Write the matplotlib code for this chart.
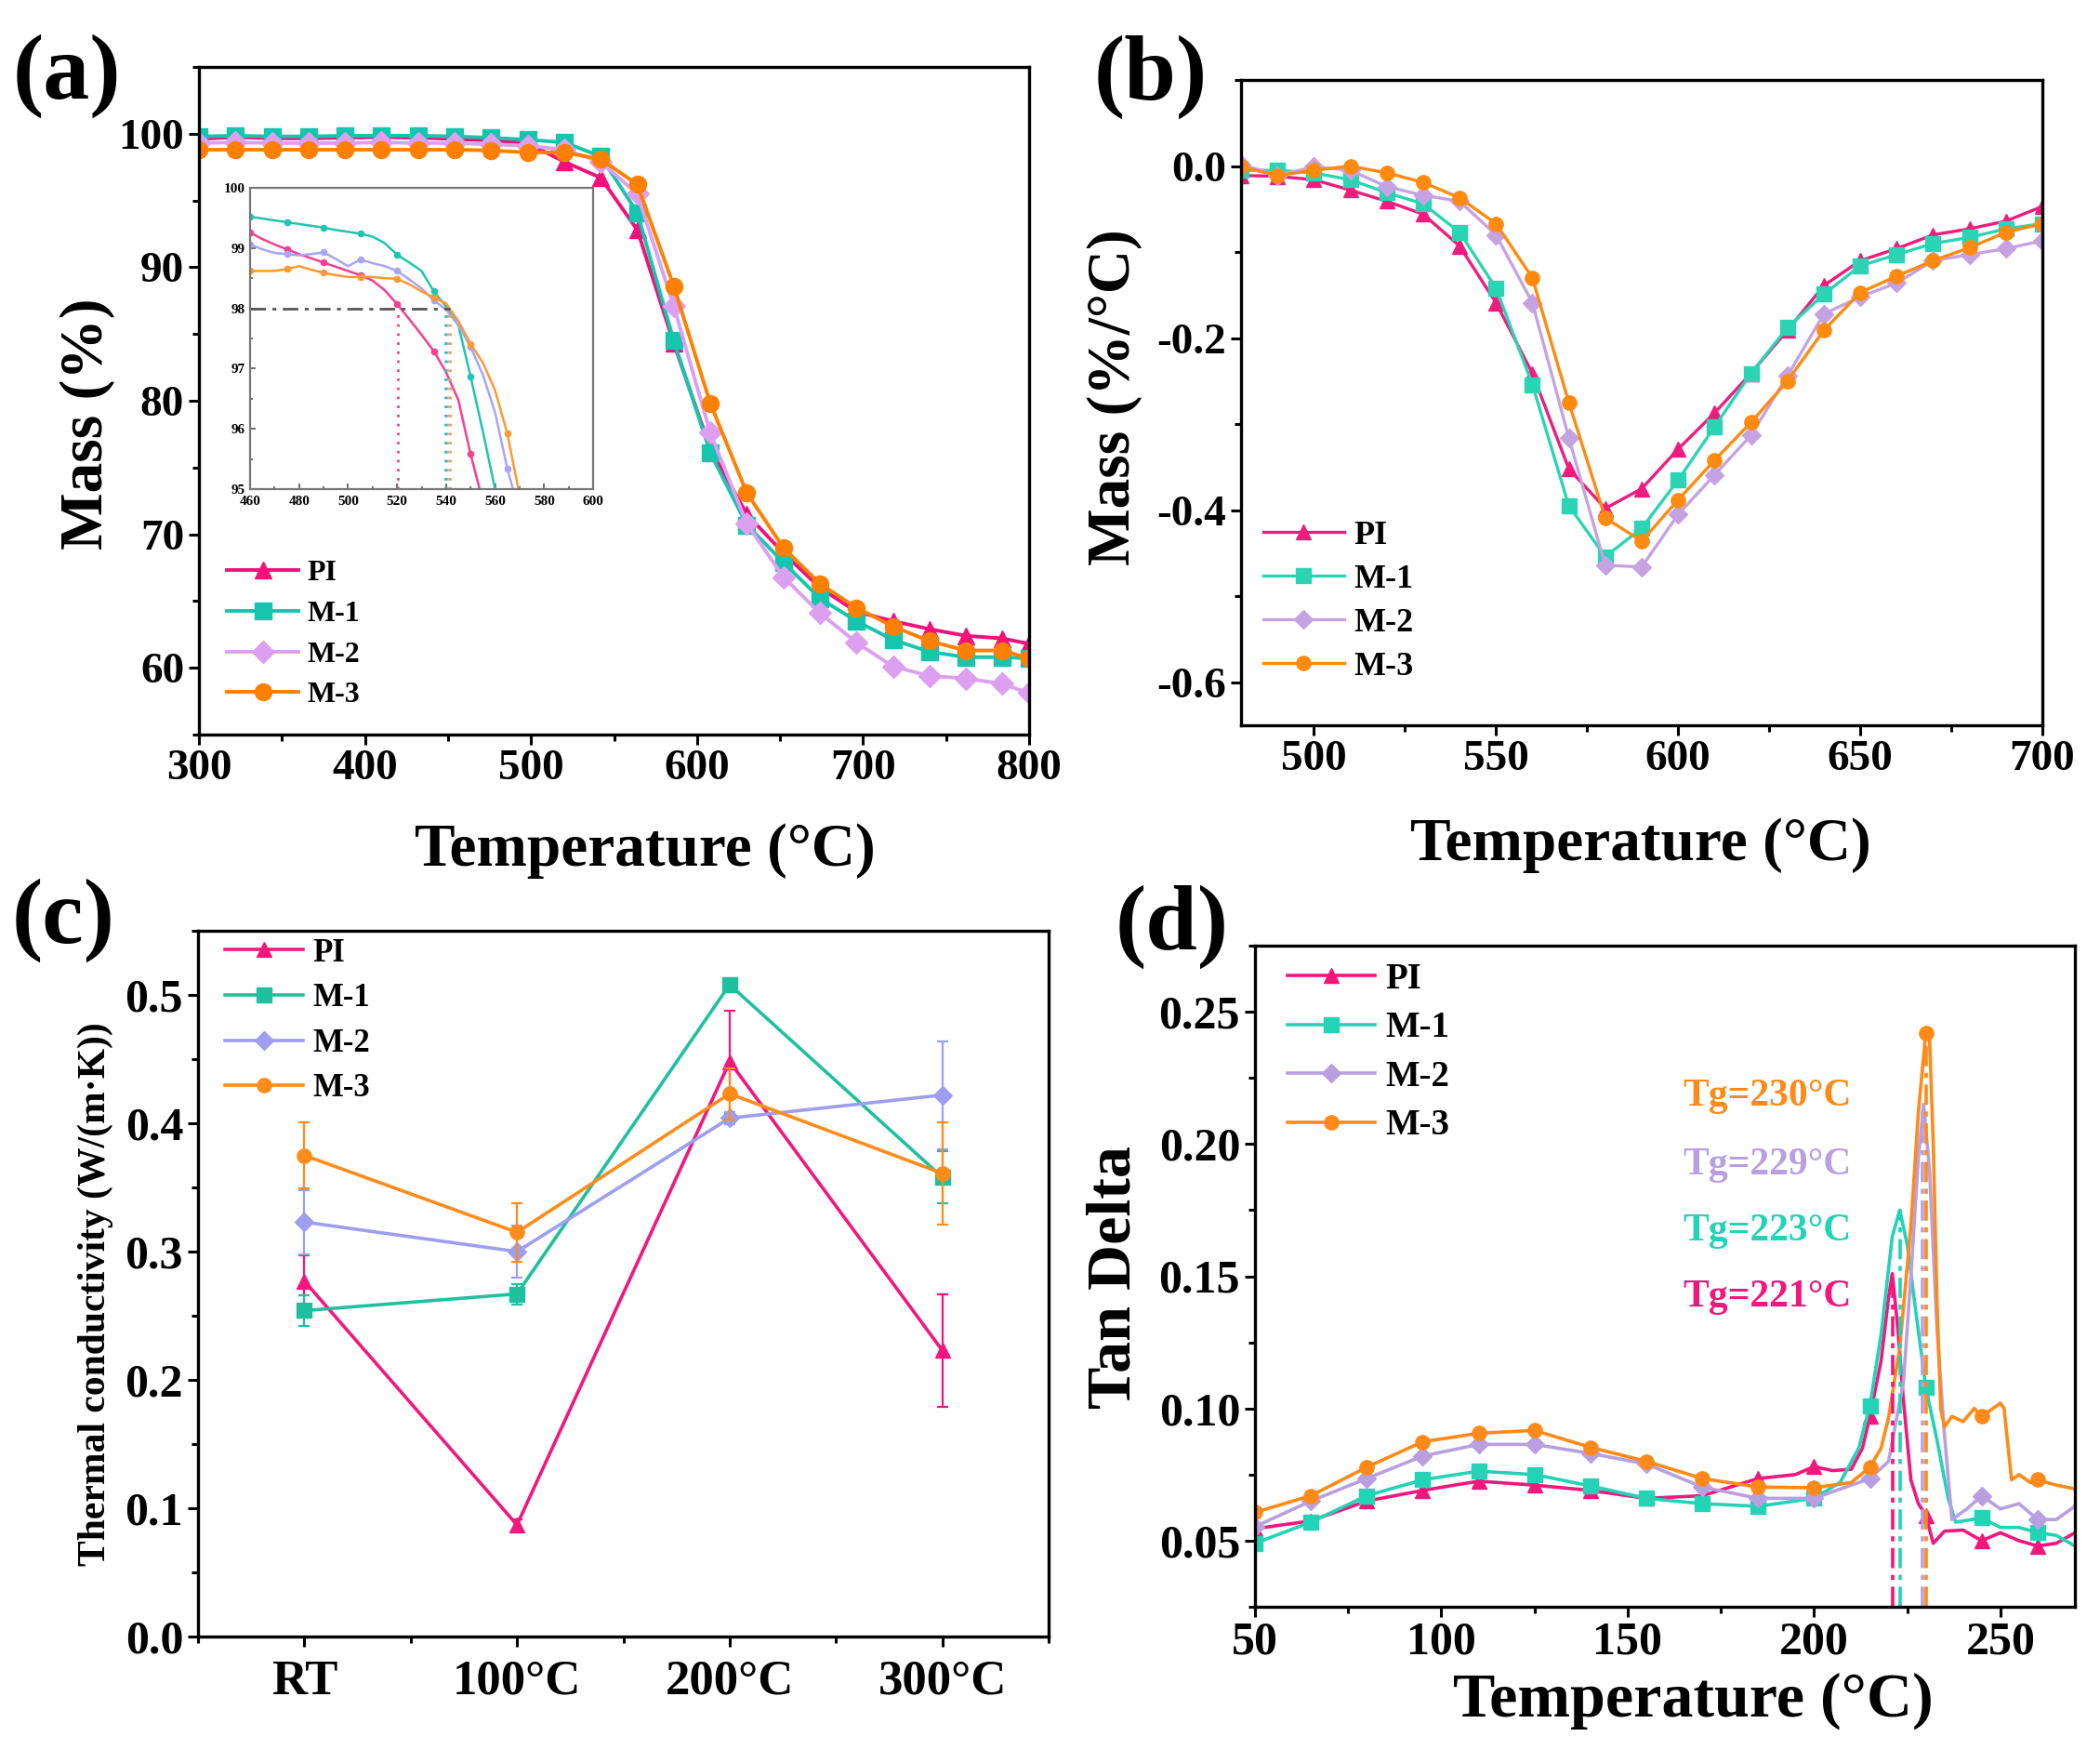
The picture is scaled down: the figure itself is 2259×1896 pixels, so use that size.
import matplotlib
matplotlib.use("Agg")
import matplotlib.pyplot as plt
import numpy as np
from matplotlib.ticker import MultipleLocator

plt.rcParams['font.family'] = ['Liberation Serif', 'DejaVu Serif']
plt.rcParams['font.weight'] = 'bold'
plt.rcParams['axes.labelweight'] = 'bold'
plt.rcParams['mathtext.default'] = 'regular'

# ---------------- data ----------------
series = ['PI', 'M-1', 'M-2', 'M-3']
markers = ['^', 's', 'D', 'o']

# (a) TGA
tga_T = [300, 322, 344, 366, 388, 410, 432, 454, 476, 498, 520, 542, 564, 586,
         608, 630, 652, 674, 696, 718, 740, 762, 784, 800]
tga_PI = [99.6, 99.75, 99.65, 99.65, 99.7, 99.75, 99.7, 99.6, 99.5, 99.3, 97.9, 96.7,
          92.8, 84.3, 76.4, 71.5, 68.6, 66.0, 64.2, 63.5, 62.9, 62.4, 62.2, 61.8]
tga_M1 = [99.8, 99.85, 99.8, 99.8, 99.85, 99.85, 99.85, 99.8, 99.7, 99.55, 99.35, 98.3,
          94.1, 84.5, 76.1, 70.7, 67.9, 65.2, 63.5, 62.1, 61.2, 60.8, 60.8, 60.7]
tga_M2 = [99.3, 99.35, 99.3, 99.3, 99.3, 99.35, 99.3, 99.3, 99.2, 99.1, 98.8, 97.9,
          95.5, 87.1, 77.6, 70.8, 66.8, 64.1, 61.9, 60.1, 59.4, 59.2, 58.8, 58.1]
tga_M3 = [98.8, 98.8, 98.8, 98.8, 98.8, 98.8, 98.8, 98.8, 98.75, 98.6, 98.6, 98.1,
          96.2, 88.6, 79.8, 73.1, 69.0, 66.3, 64.5, 63.1, 62.0, 61.3, 61.3, 60.7]

# (a) inset
ins_T = [460, 465, 470, 475, 480, 485, 490, 495, 500, 505, 510, 515, 520, 525, 530,
         535, 540, 545, 550, 555, 560, 565, 570]
ins_PI = [99.26, 99.15, 99.06, 98.98, 98.9, 98.83, 98.76, 98.69, 98.62, 98.55, 98.46,
          98.3, 98.07, 97.82, 97.56, 97.29, 96.94, 96.48, 95.58, 94.8, np.nan, np.nan, np.nan]
ins_M1 = [99.52, 99.49, 99.46, 99.43, 99.4, 99.37, 99.34, 99.3, 99.27, 99.24, 99.19,
          99.08, 98.89, 98.76, 98.62, 98.28, 98.03, 97.72, 96.87, 95.96, 95.0, 94.0, np.nan]
ins_M2 = [99.06, 98.98, 98.92, 98.9, 98.88, 98.9, 98.93, 98.82, 98.7, 98.81, 98.75,
          98.7, 98.62, 98.48, 98.33, 98.13, 97.98, 97.72, 97.36, 96.9, 96.27, 95.34, 94.6]
ins_M3 = [98.62, 98.62, 98.62, 98.65, 98.7, 98.64, 98.59, 98.55, 98.52, 98.52, 98.52,
          98.5, 98.49, 98.4, 98.28, 98.18, 98.08, 97.79, 97.41, 97.1, 96.64, 95.92, 94.9]
ins_T5 = [520.5, 540.3, 539.5, 541.5]   # T at 2 % mass loss (PI, M-2, M-1, M-3)

# (b) DTG
dtg_T = [480, 490, 500, 510, 520, 530, 540, 550, 560, 570, 580, 590, 600, 610, 620,
         630, 640, 650, 660, 670, 680, 690, 700]
dtg_PI = [-0.011, -0.012, -0.016, -0.028, -0.041, -0.056, -0.093, -0.159, -0.241, -0.352,
          -0.398, -0.375, -0.329, -0.287, -0.241, -0.191, -0.139, -0.110, -0.096, -0.080,
          -0.073, -0.064, -0.047]
dtg_M1 = [-0.005, -0.005, -0.008, -0.016, -0.031, -0.044, -0.077, -0.142, -0.254, -0.395,
          -0.454, -0.421, -0.365, -0.303, -0.241, -0.188, -0.149, -0.116, -0.103, -0.090,
          -0.083, -0.073, -0.067]
dtg_M2 = [0.002, -0.011, -0.001, -0.005, -0.024, -0.034, -0.041, -0.080, -0.159, -0.316,
          -0.464, -0.466, -0.405, -0.359, -0.313, -0.244, -0.172, -0.152, -0.136, -0.110,
          -0.103, -0.096, -0.087]
dtg_M3 = [-0.001, -0.011, -0.005, 0.000, -0.008, -0.019, -0.037, -0.067, -0.130, -0.275,
          -0.409, -0.436, -0.388, -0.342, -0.298, -0.250, -0.191, -0.147, -0.128, -0.110,
          -0.095, -0.077, -0.067]

# (c) thermal conductivity
tc_cats = ['RT', '100°C', '200°C', '300°C']
tc_PI = [0.277, 0.087, 0.448, 0.223]
tc_M1 = [0.254, 0.267, 0.508, 0.358]
tc_M2 = [0.323, 0.300, 0.404, 0.422]
tc_M3 = [0.375, 0.315, 0.423, 0.361]
tc_PI_err = [0.020, 0.004, 0.040, 0.044]
tc_M1_err = [0.012, 0.008, 0.005, 0.020]
tc_M2_err = [0.025, 0.020, 0.005, 0.042]
tc_M3_err = [0.026, 0.023, 0.020, 0.040]

# (d) DMA tan delta
td_PI_T = [50, 65, 80, 95, 110, 125, 140, 155, 170, 185, 195, 200, 205, 210, 213, 215,
           218, 220, 221, 222.5, 224, 226, 228, 230, 232, 235, 240, 245, 250, 255, 260, 265, 270]
td_PI = [0.0545, 0.0575, 0.065, 0.069, 0.0725, 0.071, 0.069, 0.066, 0.067, 0.0735, 0.075,
         0.078, 0.0765, 0.077, 0.085, 0.097, 0.118, 0.142, 0.151, 0.130, 0.103, 0.073, 0.064,
         0.0595, 0.049, 0.0536, 0.054, 0.050, 0.053, 0.050, 0.048, 0.049, 0.053]
td_M1_T = [50, 65, 80, 95, 110, 125, 140, 155, 170, 185, 200, 207, 212, 215, 218, 221,
           223, 225, 227, 230, 233, 236, 238, 245, 250, 255, 260, 265, 270]
td_M1 = [0.049, 0.057, 0.067, 0.073, 0.0763, 0.075, 0.0707, 0.066, 0.064, 0.063, 0.066,
         0.072, 0.085, 0.101, 0.128, 0.165, 0.175, 0.162, 0.140, 0.108, 0.088, 0.066, 0.057,
         0.0586, 0.055, 0.055, 0.053, 0.052, 0.048]
td_M2_T = [50, 65, 80, 95, 110, 125, 140, 155, 170, 185, 200, 215, 220, 224, 226, 228,
           229.4, 231, 233, 235, 237, 241, 245, 250, 255, 260, 265, 270]
td_M2 = [0.0553, 0.065, 0.0735, 0.082, 0.0864, 0.0864, 0.083, 0.079, 0.0703, 0.066, 0.066,
         0.0735, 0.080, 0.110, 0.150, 0.195, 0.215, 0.190, 0.130, 0.090, 0.058, 0.062, 0.067,
         0.062, 0.064, 0.058, 0.058, 0.063]
td_M3_T = [50, 65, 80, 95, 110, 125, 140, 155, 170, 185, 200, 210, 215, 218, 220, 223, 226,
           228, 230, 231, 232, 233, 234, 235, 237, 240, 243, 245, 248, 250, 251, 253, 255,
           258, 260, 265, 270]
td_M3 = [0.0607, 0.067, 0.0778, 0.0874, 0.0906, 0.0917, 0.0853, 0.080, 0.0735, 0.0703,
         0.070, 0.072, 0.0778, 0.085, 0.0965, 0.123, 0.169, 0.212, 0.242, 0.240, 0.200,
         0.140, 0.100, 0.093, 0.097, 0.095, 0.100, 0.097, 0.100, 0.102, 0.100, 0.073, 0.075,
         0.072, 0.073, 0.071, 0.0696]
tg_vals = [221, 223, 229, 230]
tg_peaks = [0.151, 0.175, 0.215, 0.242]
tg_text_y = [0.142, 0.167, 0.192, 0.218]
td_marker_T = [50, 65, 80, 95, 110, 125, 140, 155, 170, 185, 200, 215, 230, 245, 260]

# ---------------- styling ----------------
col_a = ['#F0127A', '#16C5AE', '#DDA0F0', '#FF8000']
col_ins = ['#F5408F', '#20C5B0', '#A9A4F5', '#FF9933']
col_b = ['#EF1C7D', '#2BD4B4', '#C5A3E3', '#FF8A10']
col_c = ['#F2177D', '#1FC09E', '#9E9EF0', '#FF8C1A']
col_d = ['#F2177D', '#22D3B6', '#B8A0E0', '#FF8A1A']

W, H = 2259, 1896
fig = plt.figure(figsize=(W / 100, H / 100), dpi=100)


def box(x0, y0, x1, y1):
    return [x0 / W, 1 - y1 / H, (x1 - x0) / W, (y1 - y0) / H]


def style_axes(ax, fs):
    for s in ax.spines.values():
        s.set_linewidth(2.4)
    ax.tick_params(which='both', direction='out', top=False, right=False, width=2.2,
                   labelsize=fs)
    ax.tick_params(which='major', length=8)
    ax.tick_params(which='minor', length=5)
    for lab in ax.get_xticklabels() + ax.get_yticklabels():
        lab.set_fontweight('bold')


def legend(ax, fs, x, y, ls, handles=None):
    kw = dict(loc='upper left', bbox_to_anchor=(x, y), frameon=False,
              borderpad=0, borderaxespad=0, handlelength=2.4, handletextpad=0.3,
              labelspacing=ls, prop={'weight': 'bold', 'size': fs})
    if handles is not None:
        ax.legend(handles=handles, **kw)
    else:
        ax.legend(**kw)


# ---------- (a) ----------
axa = fig.add_axes(box(214, 72, 1107, 790))
for ys, c, m, lab in zip([tga_PI, tga_M1, tga_M2, tga_M3], col_a, markers, series):
    ms = 12 if m == 'D' else 13
    axa.plot(tga_T, ys, color=c, marker=m, ms=ms, lw=2.8, label=lab)
axa.set_xlim(300, 800)
axa.set_ylim(55, 105)
axa.xaxis.set_major_locator(MultipleLocator(100))
axa.xaxis.set_minor_locator(MultipleLocator(50))
axa.yaxis.set_minor_locator(MultipleLocator(5))
axa.set_yticks([60, 70, 80, 90, 100])
axa.set_xlabel('Temperature (°C)', fontsize=47)
axa.set_ylabel('Mass (%)', fontsize=47)
axa.xaxis.set_label_coords(0.537, -0.174)
axa.yaxis.set_label_coords(-0.134, 0.465)
axa.xaxis.label.set_va('center')
axa.yaxis.label.set_va('center')
style_axes(axa, 34)
legend(axa, 23, 0.034, 0.262, 0.45)

# inset
axi = fig.add_axes(box(269, 202, 638, 526))
for ys, c, lab in zip([ins_PI, ins_M1, ins_M2, ins_M3], col_ins, series):
    axi.plot(ins_T, ys, color=c, lw=1.8, marker='o', ms=4.5, markevery=3)
axi.plot([460, 541.5], [98, 98], color='#555555', lw=2.0, ls=(0, (6, 2.5, 1.5, 2.5)))
for t, c in zip(ins_T5, [col_ins[0], col_ins[2], col_ins[1], col_ins[3]]):
    axi.plot([t, t], [95, 98], color=c, lw=2.0, ls=(0, (1, 2.5)))
axi.set_xlim(460, 600)
axi.set_ylim(95, 100)
axi.xaxis.set_major_locator(MultipleLocator(20))
axi.yaxis.set_major_locator(MultipleLocator(1))
axi.yaxis.set_minor_locator(MultipleLocator(0.5))
axi.xaxis.set_minor_locator(MultipleLocator(10))
for s in axi.spines.values():
    s.set_linewidth(1.6)
    s.set_color('#777777')
axi.tick_params(which='both', direction='in', top=False, right=False, labelsize=11,
                width=1.2, color='#555555')
axi.tick_params(axis='x', pad=5)
axi.tick_params(axis='y', pad=4)
axi.tick_params(which='major', length=4)
axi.tick_params(which='minor', length=2.5)

# ---------- (b) ----------
axb = fig.add_axes(box(1335, 86, 2197, 780))
for ys, c, m, lab in zip([dtg_PI, dtg_M1, dtg_M2, dtg_M3], col_b, markers, series):
    ms = 10 if m == 'D' else 11
    axb.plot(dtg_T, ys, color=c, marker=m, ms=ms, lw=2.4, label=lab)
axb.set_xlim(480, 700)
axb.set_ylim(-0.65, 0.1)
axb.xaxis.set_major_locator(MultipleLocator(50))
axb.xaxis.set_minor_locator(MultipleLocator(25))
axb.set_yticks([-0.6, -0.4, -0.2, 0.0])
axb.yaxis.set_minor_locator(MultipleLocator(0.1))
axb.set_yticklabels(['-0.6', '-0.4', '-0.2', '0.0'])
axb.set_xlabel('Temperature (°C)', fontsize=47)
axb.set_ylabel('Mass (%/°C)', fontsize=47)
axb.xaxis.set_label_coords(0.499, -0.186)
axb.yaxis.set_label_coords(-0.158, 0.509)
axb.xaxis.label.set_va('center')
axb.yaxis.label.set_va('center')
style_axes(axb, 34)
legend(axb, 26, 0.028, 0.318, 0.38)

# ---------- (c) ----------
axc = fig.add_axes(box(213, 1001, 1128, 1760))
xc = np.arange(len(tc_cats))
handles_c = []
for ys, es, c, m, lab in zip([tc_PI, tc_M1, tc_M2, tc_M3],
                             [tc_PI_err, tc_M1_err, tc_M2_err, tc_M3_err],
                             col_c, markers, series):
    ms = 10 if m == 'D' else 11
    axc.errorbar(xc, ys, yerr=es, fmt='none', ecolor=c, elinewidth=1.6,
                 capsize=4, capthick=1.6)
    ln, = axc.plot(xc, ys, color=c, marker=m, ms=ms, lw=2.6, label=lab)
    handles_c.append(ln)
axc.set_xlim(-0.5, 3.5)
axc.set_ylim(0, 0.55)
axc.set_xticks(xc)
axc.set_xticklabels(tc_cats)
axc.xaxis.set_minor_locator(MultipleLocator(0.5))
axc.yaxis.set_major_locator(MultipleLocator(0.1))
axc.yaxis.set_minor_locator(MultipleLocator(0.05))
axc.set_ylabel('Thermal conductivity (W/(m·K))', fontsize=30)
axc.yaxis.set_label_coords(-0.121, 0.486)
axc.yaxis.label.set_va('center')
style_axes(axc, 36)
axc.tick_params(axis='x', labelsize=38, pad=10)
legend(axc, 25, 0.032, 0.99, 0.45, handles=handles_c)

# ---------- (d) ----------
axd = fig.add_axes(box(1350, 1017, 2232, 1728))
for tx, ys, c, m, lab in zip([td_PI_T, td_M1_T, td_M2_T, td_M3_T],
                             [td_PI, td_M1, td_M2, td_M3], col_d, markers, series):
    idx = [i for i, t in enumerate(tx) if t in td_marker_T]
    ms = 10 if m == 'D' else 11
    axd.plot(tx, ys, color=c, marker=m, ms=ms, lw=2.6, markevery=idx, label=lab)
for t, p, c in zip(tg_vals, tg_peaks, col_d):
    axd.plot([t, t], [0.025, p], color=c, lw=2.6, ls=(0, (6, 2, 1.5, 2)))
for t, yv, c in zip(tg_vals, tg_text_y, col_d):
    axd.text(187.5, yv, 'Tg=%d°C' % t, color=c, fontsize=30, fontweight='bold',
             ha='center', va='center')
axd.set_xlim(50, 270)
axd.set_ylim(0.025, 0.275)
axd.xaxis.set_major_locator(MultipleLocator(50))
axd.xaxis.set_minor_locator(MultipleLocator(25))
axd.set_yticks([0.05, 0.10, 0.15, 0.20, 0.25])
axd.set_yticklabels(['0.05', '0.10', '0.15', '0.20', '0.25'])
axd.yaxis.set_minor_locator(MultipleLocator(0.025))
axd.set_xlabel('Temperature (°C)', fontsize=49)
axd.set_ylabel('Tan Delta', fontsize=49)
axd.xaxis.set_label_coords(0.534, -0.143)
axd.yaxis.set_label_coords(-0.171, 0.498)
axd.xaxis.label.set_va('center')
axd.yaxis.label.set_va('center')
style_axes(axd, 36)
legend(axd, 28, 0.04, 0.975, 0.4)

# panel labels
for txt, x, y in [('(a)', 72, 82), ('(b)', 1238, 83), ('(c)', 68, 990), ('(d)', 1261, 997)]:
    fig.text(x / W, 1 - y / H, txt, fontsize=72, fontweight='bold', ha='center', va='center')

fig.savefig('out.png', dpi=100)
